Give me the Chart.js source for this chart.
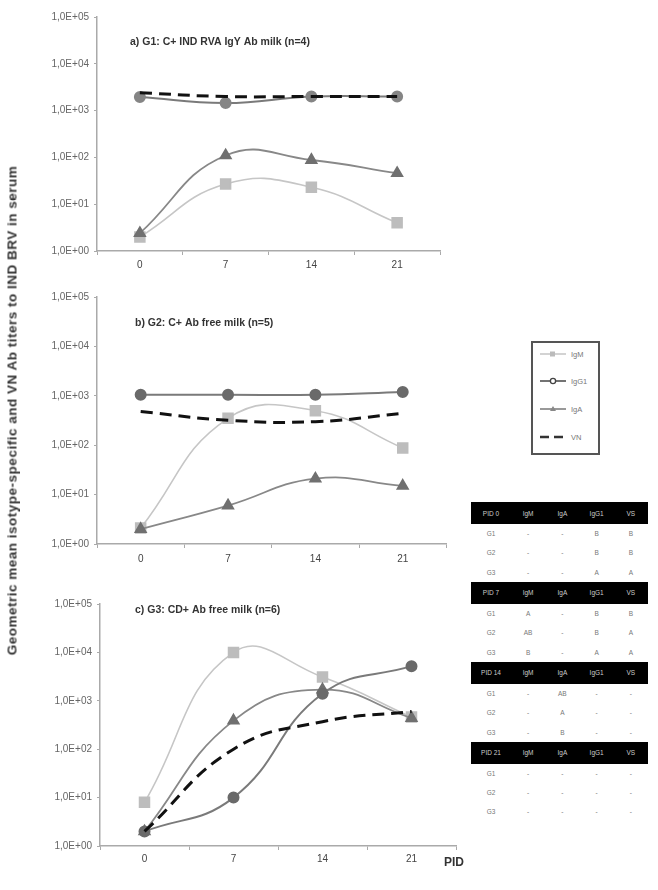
<!DOCTYPE html>
<html>
<head>
<meta charset="utf-8">
<script src="https://cdn.jsdelivr.net/npm/chart.js@4.4.1/dist/chart.umd.min.js"></script>
<style>
  body { margin: 0; background: #fff; font-family: "Liberation Sans", Arial, sans-serif; }
  #page { position: relative; width: 658px; height: 890px; overflow: hidden; }
  canvas { position: absolute; left: 0; }
  #ytitle { position: absolute; width: 600px; left: -288px; top: 403px; transform: rotate(-90deg);
    text-align: center; font-weight: bold; font-size: 13.5px; letter-spacing: 0.5px; color: #333; white-space: nowrap; }
  #pid { position: absolute; left: 444px; top: 855px; font-weight: bold; font-size: 12px; color: #333; }
  #legend { position: absolute; left: 531px; top: 341px; }
  #tbl { position: absolute; left: 471px; top: 502px; width: 177px; border-collapse: collapse;
    font-size: 6.5px; color: #777; table-layout: fixed; -webkit-font-smoothing: antialiased; }
  #tbl td { text-align: center; padding: 0; height: 19.3px; }
  #tbl tr.hd td { background: #000; color: #ccc; height: 22px; }
</style>
</head>
<body>
<div id="page">
  <canvas id="chartA" width="450" height="280" style="top:0"></canvas>
  <canvas id="chartB" width="455" height="290" style="top:280px"></canvas>
  <canvas id="chartC" width="470" height="310" style="top:580px"></canvas>
  <div id="ytitle">Geometric mean isotype-specific and VN Ab titers to IND BRV in serum</div>
  <div id="pid">PID</div>
  <svg id="legend" width="70" height="115">
    <rect x="1" y="1" width="67" height="112" fill="#fff" stroke="#555" stroke-width="2"/>
    <line x1="9" y1="13" x2="35" y2="13" stroke="#c4c4c4" stroke-width="1.5"/>
    <rect x="19" y="10.5" width="5" height="5" fill="#bbb"/>
    <text x="40" y="16" font-size="7.5" fill="#777">IgM</text>
    <line x1="9" y1="40" x2="35" y2="40" stroke="#444" stroke-width="1.5"/>
    <circle cx="22" cy="40" r="2.6" fill="#fff" stroke="#444" stroke-width="1.3"/>
    <text x="40" y="43" font-size="7.5" fill="#777">IgG1</text>
    <line x1="9" y1="68" x2="35" y2="68" stroke="#777" stroke-width="1.5"/>
    <polygon points="22,65 25,70 19,70" fill="#888"/>
    <text x="40" y="71" font-size="7.5" fill="#777">IgA</text>
    <line x1="9" y1="96" x2="35" y2="96" stroke="#333" stroke-width="2.5" stroke-dasharray="9,5"/>
    <text x="40" y="99" font-size="7.5" fill="#777">VN</text>
  </svg>
  <table id="tbl"></table>
</div>
<script>
// days post infection
const pidLabels = ['0', '7', '14', '21'];
const yTicks = [1, 10, 100, 1000, 10000, 100000];
const yTickLabels = ['1,0E+00', '1,0E+01', '1,0E+02', '1,0E+03', '1,0E+04', '1,0E+05'];

const panelTitles = ['a) G1: C+ IND RVA IgY Ab milk (n=4)', 'b) G2: C+ Ab free milk (n=5)', 'c) G3: CD+ Ab free milk (n=6)'];

// a) G1
const g1IgM = [2, 27, 23, 4];
const g1IgG1 = [1950, 1450, 2000, 2000];
const g1IgA = [2.4, 110, 88, 46];
const g1VN = [2400, 2000, 2000, 2000];

// b) G2
const g2IgM = [2.1, 350, 500, 88];
const g2IgG1 = [1050, 1050, 1050, 1200];
const g2IgA = [2, 6, 21, 15];
const g2VN = [480, 320, 300, 440];

// c) G3
const g3IgM = [8, 10000, 3100, 460];
const g3IgG1 = [2, 10, 1400, 5200];
const g3IgA = [2, 390, 1700, 440];
const g3VN = [2, 100, 370, 600];

// significance table
const tableBlocks = ['PID 0', 'PID 7', 'PID 14', 'PID 21'];
const tableCols = ['IgM', 'IgA', 'IgG1', 'VS'];
const tableGroups = ['G1', 'G2', 'G3'];
const tableCells = [
  [['-', '-', 'B', 'B'], ['-', '-', 'B', 'B'], ['-', '-', 'A', 'A']],
  [['A', '-', 'B', 'B'], ['AB', '-', 'B', 'A'], ['B', '-', 'A', 'A']],
  [['-', 'AB', '-', '-'], ['-', 'A', '-', '-'], ['-', 'B', '-', '-']],
  [['-', '-', '-', '-'], ['-', '-', '-', '-'], ['-', '-', '-', '-']]
];

const tbl = document.getElementById('tbl');
let html = '<colgroup><col style="width:40px"><col><col><col><col></colgroup>';
tableBlocks.forEach((b, bi) => {
  html += '<tr class="hd"><td>' + b + '</td>' + tableCols.map(c => '<td>' + c + '</td>').join('') + '</tr>';
  tableGroups.forEach((g, gi) => {
    html += '<tr><td>' + g + '</td>' + tableCells[bi][gi].map(c => '<td>' + c + '</td>').join('') + '</tr>';
  });
});
tbl.innerHTML = html;

const panelTitlePlugin = {
  id: 'panelTitle',
  afterDraw(chart, args, opts) {
    const ctx = chart.ctx;
    ctx.save();
    ctx.font = 'bold 10.5px "Liberation Sans", Arial, sans-serif';
    ctx.fillStyle = '#333';
    ctx.textBaseline = 'middle';
    ctx.fillText(opts.text, opts.x, opts.y);
    ctx.restore();
  }
};

function makePanel(id, igm, igg1, iga, vn, cfg) {
  new Chart(document.getElementById(id), {
    type: 'line',
    data: {
      labels: pidLabels,
      datasets: [
        { label: 'VN', data: vn, order: 0, borderColor: '#111', borderWidth: 3, borderDash: [12, 7],
          pointRadius: 0, tension: 0.45 },
        { label: 'IgG1', data: igg1, order: 1, borderColor: '#7a7a7a', borderWidth: 2,
          pointStyle: 'circle', pointRadius: 5, backgroundColor: cfg.g1c, pointBorderColor: cfg.g1c, tension: 0.45 },
        { label: 'IgA', data: iga, order: 2, borderColor: '#888', borderWidth: 1.8,
          pointStyle: 'triangle', pointRadius: 6, backgroundColor: '#707070', pointBorderColor: '#707070', tension: 0.45 },
        { label: 'IgM', data: igm, order: 3, borderColor: '#c6c6c6', borderWidth: 1.6,
          pointStyle: 'rect', pointRadius: 7, backgroundColor: '#bdbdbd', pointBorderColor: '#bdbdbd', tension: 0.45 }
      ]
    },
    options: {
      responsive: false,
      animation: false,
      layout: { padding: { top: cfg.top, right: cfg.right, left: 0, bottom: 0 } },
      plugins: {
        legend: { display: false },
        tooltip: { enabled: false },
        panelTitle: { text: cfg.title, x: cfg.tx, y: cfg.ty }
      },
      scales: {
        x: {
          type: 'category',
          offset: true,
          afterFit: s => { s.height = cfg.xh; },
          grid: { offset: true, drawOnChartArea: false, tickLength: 4, color: '#aaa' },
          border: { color: '#aaa', width: 1.5 },
          ticks: { color: '#444', padding: cfg.xpad, font: { size: 10, family: '"Liberation Sans", Arial' } }
        },
        y: {
          type: 'logarithmic',
          min: 1,
          max: 100000,
          afterFit: s => { s.width = cfg.yw; },
          afterBuildTicks: s => { s.ticks = yTicks.map(v => ({ value: v })); },
          grid: { drawOnChartArea: false, tickLength: 3, color: '#aaa' },
          border: { color: '#aaa', width: 1.5 },
          ticks: { color: '#666', padding: 5, font: { size: 10, family: '"Liberation Sans", Arial' },
            callback: (v, i) => yTickLabels[i] }
        }
      }
    },
    plugins: [panelTitlePlugin]
  });
}

makePanel('chartA', g1IgM, g1IgG1, g1IgA, g1VN,
  { top: 17, right: 10, xh: 29, yw: 97, xpad: 4, g1c: '#858585', title: panelTitles[0], tx: 130, ty: 42 });
makePanel('chartB', g2IgM, g2IgG1, g2IgA, g2VN,
  { top: 17, right: 7, xh: 26, yw: 97, xpad: 5, g1c: '#6a6a6a', title: panelTitles[1], tx: 135, ty: 43 });
makePanel('chartC', g3IgM, g3IgG1, g3IgA, g3VN,
  { top: 24, right: 14, xh: 44, yw: 100, xpad: 3, g1c: '#6a6a6a', title: panelTitles[2], tx: 135, ty: 30 });
</script>
</body>
</html>
